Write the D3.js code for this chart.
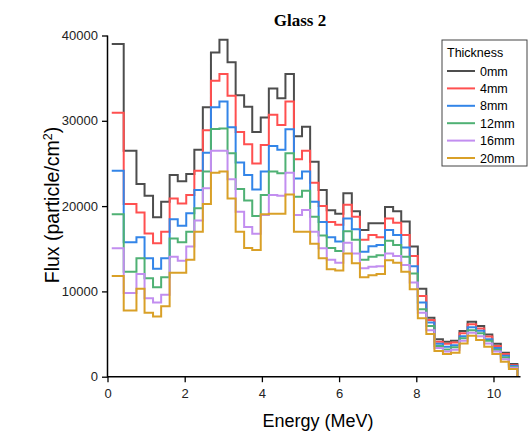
<!DOCTYPE html>
<html>
<head>
<meta charset="utf-8">
<script src="https://cdn.jsdelivr.net/npm/d3@7"></script>
<style>
  body { margin: 0; background: #fff; }
  text { font-family: "Liberation Sans", Arial, sans-serif; }
</style>
</head>
<body>
<svg width="531" height="432"></svg>
<script>
// bin edges (MeV), 48 bins
const edges = [0.11, 0.42, 0.75, 0.96, 1.18, 1.39, 1.61, 1.82, 2.04, 2.25, 2.47, 2.68, 2.90, 3.11,
  3.32, 3.54, 3.75, 3.97, 4.18, 4.40, 4.61, 4.83, 5.04, 5.25, 5.47, 5.68, 5.90, 6.11, 6.33, 6.54,
  6.76, 6.97, 7.19, 7.40, 7.61, 7.83, 8.04, 8.26, 8.47, 8.69, 8.90, 9.12, 9.33, 9.55, 9.76, 9.97,
  10.19, 10.40, 10.62];

const thickness = ["0mm", "4mm", "8mm", "12mm", "16mm", "20mm"];
const colors = ["#4d4d4d", "#ff5050", "#3385e8", "#4fb174", "#c28ef0", "#d9a027"];

// flux per bin for each thickness
const flux0 = [39000, 26500, 22600, 21200, 18700, 20500, 23650, 22900, 23750, 26600, 31600, 38000,
  39500, 36850, 33000, 31650, 28700, 30400, 33800, 32650, 35500, 28200, 29300, 25200, 21900, 19500,
  19100, 21500, 19400, 17200, 18000, 18000, 19900, 19400, 18200, 15250, 10300, 6900, 4400, 4100,
  4200, 5350, 6450, 5950, 4950, 3850, 2800, 1500];
const flux4 = [30950, 20250, 19250, 16800, 15650, 17000, 20900, 20300, 21300, 24150, 28900, 34700,
  35500, 32950, 28700, 27250, 25000, 27150, 30700, 29500, 32250, 25500, 26500, 22750, 20000, 18150,
  17800, 20150, 18750, 16050, 16600, 16350, 18550, 18050, 16600, 14150, 9450, 6650, 4100, 3850,
  4000, 5100, 6150, 5650, 4700, 3600, 2650, 1350];
const flux8 = [24150, 15750, 16350, 13900, 12650, 13900, 18450, 17700, 19150, 21900, 26250, 31600,
  32250, 29250, 25100, 23650, 21950, 24050, 27050, 26600, 29000, 23250, 24050, 20500, 18150, 16350,
  15850, 18550, 17300, 14650, 15300, 15450, 17200, 16600, 15150, 12950, 8700, 6350, 3850, 3500,
  3700, 4750, 5800, 5400, 4400, 3350, 2450, 1250];
const flux12 = [19050, 12300, 13900, 11550, 10500, 11650, 16200, 15750, 17000, 19750, 24050, 29050,
  29100, 26200, 22000, 20650, 18850, 21300, 24050, 23850, 26200, 21100, 21800, 18750, 16550, 15100,
  14750, 17050, 16050, 13700, 14050, 14250, 15950, 15450, 14050, 12100, 7900, 5950, 3600, 3200,
  3450, 4500, 5450, 5100, 4200, 3150, 2250, 1150];
const flux16 = [15050, 9800, 12050, 9200, 8700, 9600, 14050, 13600, 15250, 18300, 22100, 26500,
  26500, 23150, 19350, 17550, 16750, 18950, 21300, 21200, 23900, 18950, 19550, 17000, 15050, 13700,
  13350, 15700, 14450, 12700, 12900, 12950, 14450, 14150, 13100, 11050, 7500, 5450, 3350, 2950,
  3150, 4200, 5150, 4750, 3900, 2950, 2050, 1050];
const flux20 = [11800, 7750, 10300, 7500, 7050, 8250, 12200, 12200, 13700, 17000, 20250, 23900,
  24050, 20900, 17000, 15100, 14850, 19050, 19100, 19100, 21350, 17000, 17000, 15600, 13900, 12600,
  12450, 14450, 13300, 11650, 11900, 12050, 13650, 13350, 12300, 10250, 6850, 5000, 3000, 2650,
  2800, 3900, 4800, 4300, 3500, 2650, 1750, 900];

const series = [flux0, flux4, flux8, flux12, flux16, flux20];

const svg = d3.select("svg");

const x = d3.scaleLinear().domain([0, 10.7]).range([107.5, 520.5]);
const y = d3.scaleLinear().domain([0, 40000]).range([376.7, 35.5]);

// step lines
const line = d3.line()
  .x(d => x(d[0]))
  .y(d => y(d[1]))
  .curve(d3.curveStepAfter);

series.forEach((vals, s) => {
  const pts = vals.map((v, i) => [edges[i], v]);
  pts.push([edges[edges.length - 1], 0]);
  svg.append("path")
    .datum(pts)
    .attr("d", line)
    .attr("fill", "none")
    .attr("stroke", colors[s])
    .attr("stroke-width", 2);
});

// x axis
const xAxis = svg.append("g").attr("transform", "translate(0,376.7)");
xAxis.call(d3.axisBottom(x).tickValues([1, 3, 5, 7, 9]).tickSize(3.5).tickFormat(""));
xAxis.call(d3.axisBottom(x).tickValues([0, 2, 4, 6, 8, 10]).tickSize(5.5).tickPadding(7));
xAxis.selectAll(".domain").remove();
xAxis.append("line").attr("x1", 107.5).attr("x2", 520.5)
  .attr("stroke", "#000").attr("stroke-width", 1.5);

// y axis
const yAxis = svg.append("g").attr("transform", "translate(107.5,0)");
yAxis.call(d3.axisLeft(y).tickValues([5000, 15000, 25000, 35000]).tickSize(3.5).tickFormat(""));
yAxis.call(d3.axisLeft(y).tickValues([0, 10000, 20000, 30000, 40000]).tickSize(5.5).tickPadding(4)
  .tickFormat(d3.format("d")));
yAxis.selectAll(".domain").remove();
yAxis.append("line").attr("y1", 35.5).attr("y2", 377.5)
  .attr("stroke", "#000").attr("stroke-width", 1.5);

svg.selectAll(".tick line").attr("stroke-width", 1.3);
svg.selectAll(".tick text").style("font-size", "13px").attr("fill", "#222");

// labels
svg.append("text")
  .attr("x", 318).attr("y", 427)
  .attr("text-anchor", "middle")
  .style("font-size", "18px")
  .text("Energy (MeV)");

const yl = svg.append("text")
  .attr("transform", "translate(59,205) rotate(-90)")
  .attr("text-anchor", "middle")
  .style("font-size", "19.5px");
yl.append("tspan").text("Flux (particle/cm");
yl.append("tspan").attr("dy", -7).style("font-size", "12.5px").text("2");
yl.append("tspan").attr("dy", 7).text(")");

svg.append("text")
  .attr("x", 300).attr("y", 26)
  .attr("text-anchor", "middle")
  .style("font-family", "'Liberation Serif', 'Times New Roman', serif")
  .style("font-weight", "bold")
  .style("font-size", "17px")
  .text("Glass 2");

// legend
const lg = svg.append("g");
lg.append("rect")
  .attr("x", 442).attr("y", 40).attr("width", 85).attr("height", 126)
  .attr("fill", "#fff").attr("stroke", "#444").attr("stroke-width", 1);
lg.append("text").attr("x", 447).attr("y", 57).style("font-size", "12.5px").text("Thickness");
thickness.forEach((t, i) => {
  const ly = 71 + i * 17.4;
  lg.append("line").attr("x1", 447).attr("x2", 475).attr("y1", ly).attr("y2", ly)
    .attr("stroke", colors[i]).attr("stroke-width", 2);
  lg.append("text").attr("x", 480).attr("y", ly + 4.5).style("font-size", "12.5px").text(t);
});
</script>
</body>
</html>
